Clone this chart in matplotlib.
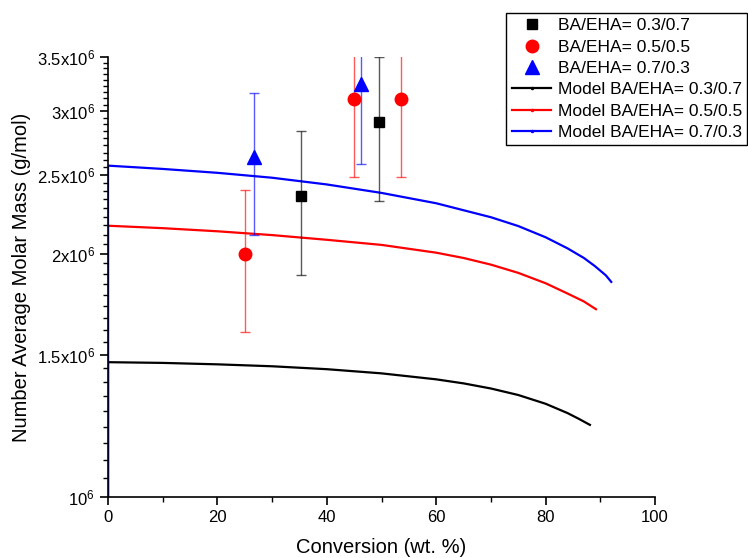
import numpy as np
import matplotlib
matplotlib.use("Agg")
import matplotlib.pyplot as plt
from matplotlib.lines import Line2D
from matplotlib.ticker import FixedLocator, MultipleLocator, NullFormatter

plt.rcParams["font.family"] = ["Liberation Sans", "DejaVu Sans"]
plt.rcParams["mathtext.fontset"] = "custom"
plt.rcParams["mathtext.rm"] = "Liberation Sans"
plt.rcParams["mathtext.default"] = "regular"

# measured Mn with error bars
x_37 = [35.3, 49.5]
y_37 = [2.358e6, 2.912e6]
e_37 = [0.474e6, 0.586e6]

x_55 = [25.0, 45.0, 53.5]
y_55 = [2.0e6, 3.106e6, 3.106e6]
e_55 = [0.40e6, 0.62e6, 0.62e6]

x_73 = [26.6, 46.3]
y_73 = [2.633e6, 3.238e6]
e_73 = [0.527e6, 0.659e6]

# model curves (first point sits below the axis at x=0)
mx_37 = [0, 0, 10, 20, 30, 40, 50, 60, 65, 70, 75, 80, 84, 86, 88.1]
my_37 = [1e5, 1.468e6, 1.465e6, 1.459e6, 1.451e6, 1.439e6, 1.422e6, 1.398e6, 1.382e6,
         1.362e6, 1.337e6, 1.304e6, 1.270e6, 1.250e6, 1.228e6]

mx_55 = [0, 0, 10, 20, 30, 40, 50, 60, 65, 70, 75, 80, 84, 87, 89.2]
my_55 = [1e5, 2.165e6, 2.150e6, 2.131e6, 2.108e6, 2.080e6, 2.050e6, 2.005e6, 1.975e6,
         1.938e6, 1.893e6, 1.838e6, 1.785e6, 1.745e6, 1.707e6]

mx_73 = [0, 0, 10, 20, 30, 40, 50, 60, 70, 75, 80, 84, 87, 89, 91, 92]
my_73 = [1e5, 2.569e6, 2.545e6, 2.517e6, 2.482e6, 2.435e6, 2.377e6, 2.308e6, 2.218e6,
         2.163e6, 2.095e6, 2.030e6, 1.975e6, 1.930e6, 1.880e6, 1.845e6]

yticks = [1e6, 1.5e6, 2e6, 2.5e6, 3e6, 3.5e6]
ytick_labels = ["$10^{6}$", "1.5x$10^{6}$", "2x$10^{6}$", "2.5x$10^{6}$", "3x$10^{6}$", "3.5x$10^{6}$"]

fig = plt.figure(figsize=(7.48, 5.58), dpi=100)
ax = fig.add_axes([0.1444, 0.1093, 0.7313, 0.7885])

ax.plot(mx_37, my_37, color="black", lw=1.6)
ax.plot(mx_55, my_55, color="red", lw=1.6)
ax.plot(mx_73, my_73, color="blue", lw=1.6)

ekw = dict(capsize=3.6, elinewidth=1.0, capthick=1.0, linestyle="none")
ax.errorbar(x_37, y_37, yerr=e_37, fmt="s", color="black", ecolor=(0, 0, 0, 0.65), ms=7.5, **ekw)
ax.errorbar(x_55, y_55, yerr=e_55, fmt="o", color="red", ecolor=(1, 0, 0, 0.65), ms=9, **ekw)
ax.errorbar(x_73, y_73, yerr=e_73, fmt="^", color="blue", ecolor=(0, 0, 1, 0.65), ms=10, **ekw)

ax.set_yscale("log")
ax.set_xlim(0, 100)
ax.set_ylim(1e6, 3.5e6)

ax.yaxis.set_major_locator(FixedLocator(yticks))
ax.set_yticklabels(ytick_labels)
minor = []
for a in yticks[:-1]:
    minor += [a + k * 0.5e6 / 9 for k in range(1, 9)]
ax.yaxis.set_minor_locator(FixedLocator(minor))
ax.yaxis.set_minor_formatter(NullFormatter())
ax.xaxis.set_major_locator(MultipleLocator(20))
ax.xaxis.set_minor_locator(MultipleLocator(10))

for s in ["top", "right"]:
    ax.spines[s].set_visible(False)
for s in ["left", "bottom"]:
    ax.spines[s].set_linewidth(1.2)
ax.tick_params(which="major", direction="out", length=6, width=1.2, labelsize=12)
ax.tick_params(which="minor", direction="out", length=3.5, width=1.0)

ax.set_xlabel("Conversion (wt. %)", fontsize=14.5, labelpad=9)
ax.set_ylabel("Number Average Molar Mass (g/mol)", fontsize=14.5, labelpad=4)

handles = [
    Line2D([], [], ls="none", marker="s", color="black", ms=7.5),
    Line2D([], [], ls="none", marker="o", color="red", ms=9),
    Line2D([], [], ls="none", marker="^", color="blue", ms=10),
    Line2D([], [], color="black", lw=1.6, marker=".", ms=3),
    Line2D([], [], color="red", lw=1.6, marker=".", ms=3),
    Line2D([], [], color="blue", lw=1.6, marker=".", ms=3),
]
labels = ["BA/EHA= 0.3/0.7", "BA/EHA= 0.5/0.5", "BA/EHA= 0.7/0.3",
          "Model BA/EHA= 0.3/0.7", "Model BA/EHA= 0.5/0.5", "Model BA/EHA= 0.7/0.3"]
leg = fig.legend(handles, labels, loc="upper right", bbox_to_anchor=(0.9987, 0.977),
                 fontsize=12.5, frameon=True, fancybox=False, edgecolor="black",
                 framealpha=1, borderpad=0.3, labelspacing=0.36, handlelength=2.3,
                 handletextpad=0.35, borderaxespad=0, numpoints=1)
leg.get_frame().set_linewidth(1.0)

fig.savefig("out.png", dpi=100)
